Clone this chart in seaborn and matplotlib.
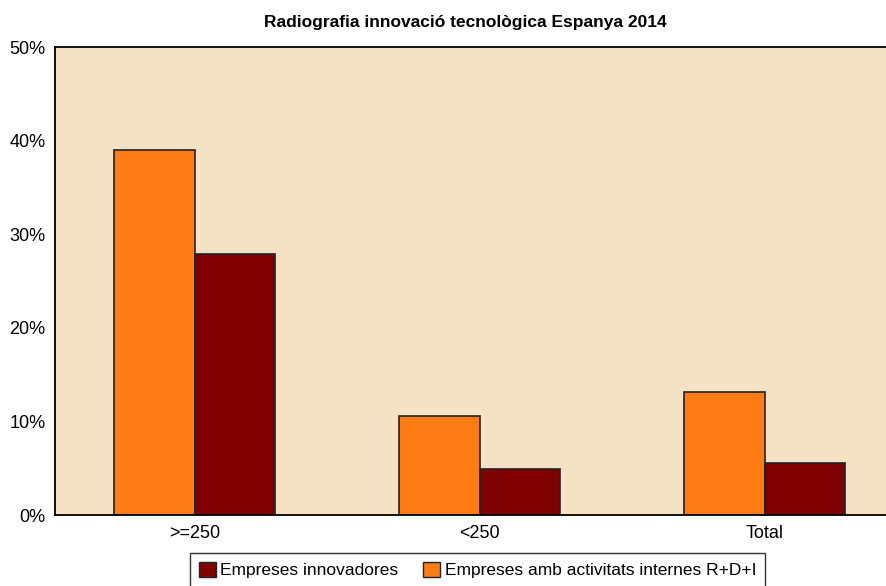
import numpy as np
import pandas as pd
import seaborn as sns
import matplotlib.pyplot as plt
from matplotlib.patches import Patch

categories = ['>=250', '<250', 'Total']
rdi = [39.0, 10.6, 13.1]          # Empreses amb activitats internes R+D+I
innovadores = [27.9, 4.9, 5.6]    # Empreses innovadores

s_rdi = 'Empreses amb activitats internes R+D+I'
s_inn = 'Empreses innovadores'

df = pd.DataFrame({
    'cat': categories * 2,
    'val': rdi + innovadores,
    'serie': [s_rdi] * 3 + [s_inn] * 3,
})

colors = {s_rdi: '#FF7B14', s_inn: '#7F0000'}

sns.set_style('white')
plt.rcParams['font.family'] = ['Liberation Sans', 'DejaVu Sans']
plt.rcParams['text.color'] = 'black'
plt.rcParams['xtick.color'] = 'black'
plt.rcParams['ytick.color'] = 'black'

fig = plt.figure(figsize=(8.86, 5.86), dpi=100)
ax = fig.add_axes([55 / 886, 71 / 586, 835 / 886, 468 / 586])
ax.set_facecolor('#F5E1C3')

sns.barplot(
    data=df, x='cat', y='val', hue='serie',
    hue_order=[s_rdi, s_inn], palette=colors, saturation=1,
    width=0.566, gap=0, edgecolor='#222222', linewidth=1.2,
    ax=ax, legend=False,
)

ax.set_xlim(-0.49, 2.44)
ax.set_ylim(0, 50)
ax.set_yticks(range(0, 51, 10))
ax.set_yticklabels([f'{v}%' for v in range(0, 51, 10)], fontsize=13)
ax.tick_params(axis='x', labelsize=13, length=0, pad=7)
ax.tick_params(axis='y', length=0, pad=7)
ax.set_xlabel('')
ax.set_ylabel('')
for side in ['left', 'top', 'bottom']:
    ax.spines[side].set_color('black')
    ax.spines[side].set_linewidth(1.3)
ax.spines['right'].set_visible(False)

fig.text(465 / 886, 1 - 22 / 586, 'Radiografia innovació tecnològica Espanya 2014',
         ha='center', va='center', fontsize=12.5, fontweight='bold')

handles = [Patch(facecolor=colors[s_inn], edgecolor='#222222', label=s_inn),
           Patch(facecolor=colors[s_rdi], edgecolor='#222222', label=s_rdi)]
leg = fig.legend(handles=handles, loc='upper left', bbox_to_anchor=(190 / 886, 1 - 553 / 586),
                 ncol=2, fontsize=12.5, frameon=True, fancybox=False,
                 handlelength=1.0, handleheight=1.0, handletextpad=0.25, columnspacing=1.4,
                 borderpad=0.5, borderaxespad=0)
leg.get_frame().set_edgecolor('black')
leg.get_frame().set_linewidth(1.0)

fig.savefig('out.png', dpi=100)
